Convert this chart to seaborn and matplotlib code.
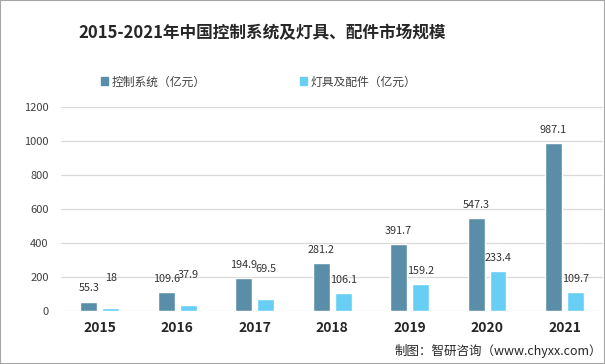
import matplotlib
matplotlib.use("Agg")
import pandas as pd
import matplotlib.pyplot as plt
from matplotlib.patches import Rectangle
import seaborn as sns

years = ["2015", "2016", "2017", "2018", "2019", "2020", "2021"]
control = [55.3, 109.6, 194.9, 281.2, 391.7, 547.3, 987.1]
lamps = [18, 37.9, 69.5, 106.1, 159.2, 233.4, 109.7]
series = ["控制系统（亿元）", "灯具及配件（亿元）"]
colors = ["#5a8ea8", "#67cef4"]

title = "2015-2021年中国控制系统及灯具、配件市场规模"
source = "制图：智研咨询（www.chyxx.com）"

df = pd.DataFrame({
    "year": years * 2,
    "value": control + lamps,
    "series": [series[0]] * len(years) + [series[1]] * len(years),
})

sns.set_style("white")
plt.rcParams["font.family"] = ["Noto Sans CJK SC", "DejaVu Sans"]

fig = plt.figure(figsize=(6.05, 3.64), dpi=100)
ax = fig.add_axes([0.101, 0.1456, 0.896, 0.5604])

sns.barplot(data=df, x="year", y="value", hue="series", hue_order=series,
            palette=colors, saturation=1, width=0.564, gap=0.227, ax=ax,
            legend=False)

ax.set_ylim(0, 1200)
ax.set_yticks(range(0, 1201, 200))
ax.set_xlabel("")
ax.set_ylabel("")
for s in ax.spines.values():
    s.set_visible(False)
ax.grid(axis="y", color="#d9d9d9", lw=0.9)
ax.set_axisbelow(True)
ax.tick_params(axis="y", length=0, pad=9, labelsize=8, labelcolor="#404040")
ax.tick_params(axis="x", length=0, pad=7, labelsize=10, labelcolor="#262626")
for t in ax.get_xticklabels():
    t.set_fontweight("bold")

# value labels
for i, cont in enumerate(ax.containers):
    for bar in cont:
        v = bar.get_height()
        off = 21.5 if (i == 1 and v < 100) else 9.5
        ax.annotate(f"{v:g}", xy=(bar.get_x() + bar.get_width() / 2, v),
                    xytext=(0, off), textcoords="offset points",
                    ha="center", va="center", fontsize=7.8, color="#333333")

handles = [Rectangle((0, 0), 1, 1, color=c) for c in colors]
fig.legend(handles, series, loc="center", bbox_to_anchor=(0.428, 0.775), ncol=2,
           frameon=False, fontsize=8.5, handlelength=0.6, handleheight=0.6,
           handletextpad=0.3, columnspacing=8, labelcolor="#404040")

fig.text(0.433, 0.909, title, ha="center", va="center", fontsize=12,
         fontweight="bold", color="#262626")
fig.text(0.995, 0.036, source, ha="right", va="center", fontsize=9, color="#262626")

fig.patches.append(Rectangle((0, 0), 1, 1, transform=fig.transFigure, fill=False,
                             edgecolor="#a6a6a6", lw=1.5))

fig.savefig("out.png", dpi=100)
